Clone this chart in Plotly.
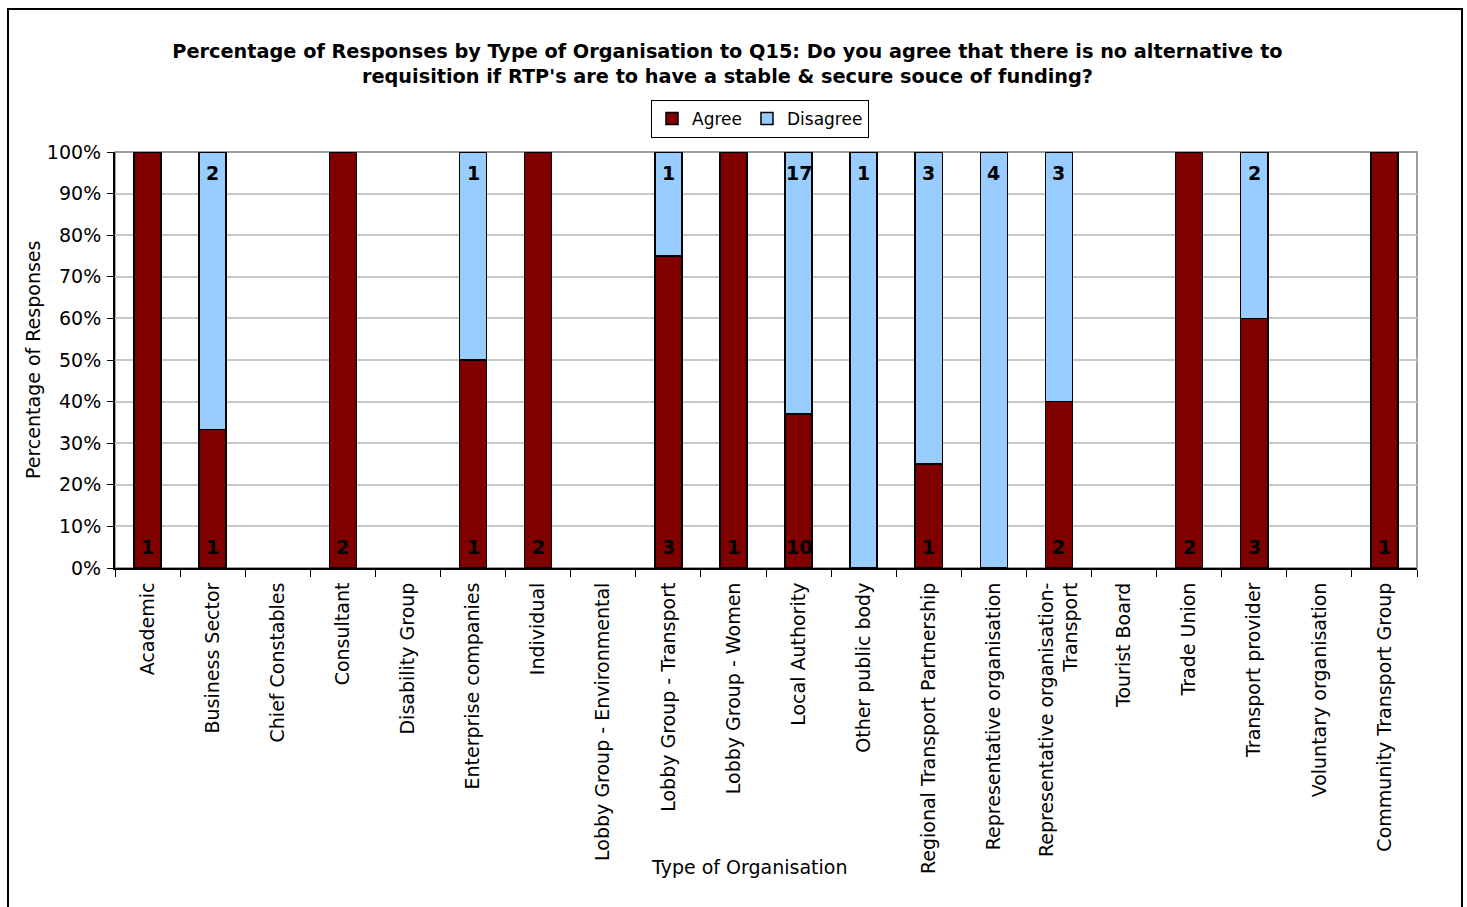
import plotly.graph_objects as go

# Responses to Q15 by type of organisation
categories = [
    "Academic", "Business Sector", "Chief Constables", "Consultant",
    "Disability Group", "Enterprise companies", "Individual",
    "Lobby Group - Environmental", "Lobby Group - Transport",
    "Lobby Group - Women", "Local Authority", "Other public body",
    "Regional Transport Partnership", "Representative organisation",
    "Representative organisation-<br>Transport", "Tourist Board",
    "Trade Union", "Transport provider", "Voluntary organisation",
    "Community Transport Group",
]
agree_counts = [1, 1, 0, 2, 0, 1, 2, 0, 3, 1, 10, 0, 1, 0, 2, 0, 2, 3, 0, 1]
disagree_counts = [0, 2, 0, 0, 0, 1, 0, 0, 1, 0, 17, 1, 3, 4, 3, 0, 0, 2, 0, 0]
y_ticks = list(range(0, 101, 10))
y_tick_labels = [f"{v}%" for v in y_ticks]

totals = [a + d for a, d in zip(agree_counts, disagree_counts)]
# empty segments are left out so no outline is drawn for them
agree_pct = [100 * a / t if a else None for a, t in zip(agree_counts, totals)]
disagree_pct = [100 * d / t if d else None for d, t in zip(disagree_counts, totals)]

FONT = "DejaVu Sans"
AGREE_COLOR = "#800000"
DISAGREE_COLOR = "#99CCFF"

fig = go.Figure()
fig.add_trace(go.Bar(
    name="Agree", x=categories, y=agree_pct,
    marker=dict(color=AGREE_COLOR, line=dict(color="black", width=1.5)),
    hoverinfo="skip",
))
fig.add_trace(go.Bar(
    name="Disagree", x=categories, y=disagree_pct,
    marker=dict(color=DISAGREE_COLOR, line=dict(color="black", width=1.5)),
    hoverinfo="skip",
))

# Count labels: agree at the base of each bar, disagree at the top
label_font = dict(family=FONT, size=19, color="black", weight="bold")
annotations = []
for c, a in zip(categories, agree_counts):
    if a > 0:
        annotations.append(dict(
            x=c, y=0, xref="x", yref="y", text=str(a), showarrow=False,
            yanchor="middle", yshift=21, font=label_font))
for c, d in zip(categories, disagree_counts):
    if d > 0:
        annotations.append(dict(
            x=c, y=100, xref="x", yref="y", text=str(d), showarrow=False,
            yanchor="middle", yshift=-21, font=label_font))

# Plot area geometry in pixels
W, H = 1467, 907
L, R, T, B = 115, 1417, 152, 568
pw, ph = R - L, B - T

def px_x(x):
    return (x - L) / pw

def px_y(y):
    return (B - y) / ph

annotations += [
    dict(text="Type of Organisation", xref="paper", yref="paper",
         x=px_x(749), y=px_y(867), xanchor="center", yanchor="middle",
         showarrow=False, font=dict(family=FONT, size=19)),
    dict(text="Percentage of Responses", xref="paper", yref="paper",
         x=px_x(33), y=px_y(360), xanchor="center", yanchor="middle",
         textangle=-90, showarrow=False, font=dict(family=FONT, size=19)),
]

fig.update_layout(
    width=W, height=H,
    margin=dict(l=L, r=W - R, t=T, b=H - B),
    paper_bgcolor="white", plot_bgcolor="white",
    barmode="stack", bargap=0.585,
    font=dict(family=FONT, size=19, color="black"),
    title=dict(
        text="Percentage of Responses by Type of Organisation to Q15: Do you agree that there is no alternative to<br>"
             "requisition if RTP's are to have a stable &amp; secure souce of funding?",
        x=727.5 / W, xanchor="center", xref="container",
        y=1 - 58 / H, yanchor="top", yref="container",
        font=dict(family=FONT, size=19.3, color="black", weight="bold"),
    ),
    legend=dict(
        orientation="h", traceorder="normal",
        x=px_x(651), xanchor="left", y=px_y(100), yanchor="top",
        bordercolor="black", borderwidth=1, bgcolor="white",
        font=dict(family=FONT, size=17), itemwidth=30, tracegroupgap=0,
    ),
    xaxis=dict(
        type="category", tickangle=-90, showgrid=False,
        showline=True, linecolor="black", linewidth=2,
        ticks="outside", tickson="boundaries", ticklen=7, tickcolor="black",
        tickfont=dict(family=FONT, size=19), ticklabelstandoff=5,
        range=[-0.5, len(categories) - 0.5],
    ),
    yaxis=dict(
        range=[0, 100], tickvals=y_ticks, ticktext=y_tick_labels,
        showgrid=True, gridcolor="#C8C8C8", gridwidth=1.5,
        showline=True, linecolor="black", linewidth=2,
        ticks="outside", ticklen=6, tickcolor="black",
        tickfont=dict(family=FONT, size=19), ticklabelstandoff=2,
        zeroline=False,
    ),
    annotations=annotations,
    shapes=[
        # grey plot-area border (right and top edges)
        dict(type="rect", xref="paper", yref="paper", x0=0, x1=1, y0=0, y1=1,
             line=dict(color="#808080", width=1.5), layer="below"),
        # outer chart frame
        dict(type="rect", xref="paper", yref="paper",
             x0=px_x(8), x1=px_x(1462), y0=px_y(915), y1=px_y(9),
             line=dict(color="black", width=2), layer="below"),
    ],
)

fig.write_html("out.html")
